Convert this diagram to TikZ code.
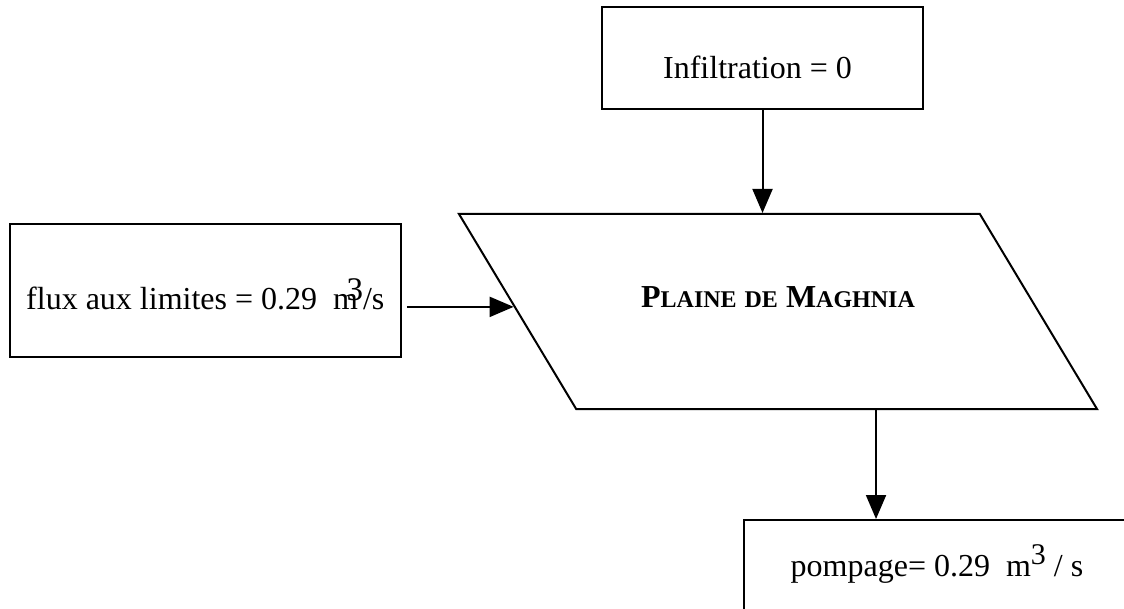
\documentclass[tikz,border=0pt]{standalone}
\usepackage{fontspec}
\setmainfont{Liberation Serif}
\usetikzlibrary{arrows.meta, positioning, shapes.geometric}

% fake small caps: big first letter, smaller rest
\newcommand{\fsc}[2]{{\fontsize{32}{38}\selectfont #1}{\fontsize{24}{28}\selectfont #2}}

\begin{document}
\begin{tikzpicture}[
    x=1pt, y=-1pt,
    font=\fontsize{32}{38}\selectfont,
    >={Triangle[length=24pt, width=20pt]},
    line width=2pt,
    box/.style={
        draw,
        inner sep=0pt
    },
    plainebox/.style={
        draw,
        trapezium,
        trapezium left angle=121,
        trapezium right angle=59,
        trapezium stretches body,
        minimum width=638pt,
        inner sep=0pt,
        font=\fontsize{32}{38}\selectfont\bfseries
    }
]

\useasboundingbox (0,0) rectangle (1124,609);
\clip (0,0) rectangle (1124,609);

% ==================== Boxes ====================
\node[box, minimum width=321pt, text height=72pt, text depth=30pt]
    (infil) at (762.5,58) {Infiltration = 0\hspace*{10pt}};

\node[box, minimum width=391pt, text height=86pt, text depth=47pt]
    (flux) at (205.3,290.5)
    {flux aux limites = 0.29\ \ m\kern-.36em\raisebox{.3em}{\fontsize{33}{38}\selectfont 3}/s};

\node[plainebox, text height=94pt, text depth=101pt] (plaine) at (778,311.5)
    {\fsc{P}{LAINE} \fsc{}{DE} \fsc{M}{AGHNIA}};

\node[box, anchor=north west, minimum width=386pt, text height=56pt, text depth=100pt]
    (pomp) at (743,519)
    {pompage= 0.29\ \ m\raisebox{.36em}{\fontsize{30}{34}\selectfont 3} / s};

% ==================== Arrows ====================
\draw[->] (infil) -- (infil |- plaine.north);
\draw[->, shorten <=5pt] (flux.east |- plaine.179) -- (plaine.179);
\draw[->] ([xshift=98pt]plaine.south) -- ([xshift=98pt]plaine.south |- pomp.north);

\end{tikzpicture}
\end{document}
